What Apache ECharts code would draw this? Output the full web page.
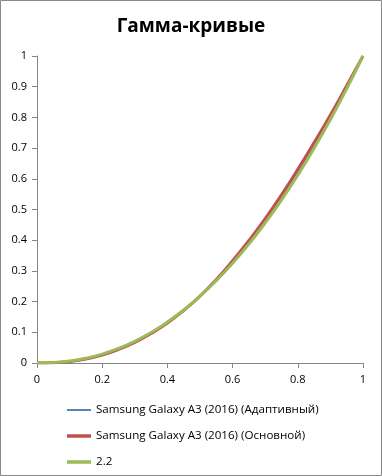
<!DOCTYPE html>
<html><head><meta charset="utf-8">
<script src="https://cdn.jsdelivr.net/npm/echarts@6/dist/echarts.min.js"></script>
<style>html,body{margin:0;padding:0;background:#fff}#c{width:382px;height:476px}</style>
</head><body><div id="c"></div>
<script>
const xs = [0,0.05,0.1,0.15,0.2,0.25,0.3,0.35,0.4,0.45,0.5,0.55,0.6,0.65,0.7,0.75,0.8,0.85,0.9,0.95,1];
const adaptive = [0,0.0012,0.0056,0.014,0.027,0.045,0.068,0.097,0.131,0.172,0.218,0.271,0.330,0.394,0.464,0.541,0.623,0.710,0.802,0.899,1];
const basic = [0,0.001,0.005,0.013,0.026,0.044,0.067,0.096,0.130,0.171,0.218,0.272,0.333,0.399,0.470,0.548,0.631,0.718,0.808,0.903,1];
const g22 = [0,0.0014,0.0063,0.0154,0.029,0.0474,0.0707,0.0993,0.1332,0.1726,0.2176,0.2684,0.325,0.3876,0.4563,0.5311,0.6121,0.6994,0.7931,0.8933,1];
const names = ['Samsung Galaxy A3 (2016) (Адаптивный)','Samsung Galaxy A3 (2016) (Основной)','2.2'];
const title = 'Гамма-кривые';
const pair = (ys) => xs.map((x,i)=>[x, ys[i]]);
const chart = echarts.init(document.getElementById('c'));
const fontFam = 'Open Sans, sans-serif';
const thin = 'path://M0,0L24,0L24,1.5L0,1.5Z';
const thick = 'path://M0,0L24,0L24,3.5L0,3.5Z';
chart.setOption({
  animation:false,
  title:{text:title,left:'center',top:12,textStyle:{fontFamily:fontFam,fontSize:19,fontWeight:'bold',color:'#000'}},
  grid:{left:37,right:19,top:56,bottom:113},
  xAxis:{type:'value',min:0,max:1,interval:0.2,
    axisLine:{show:true,lineStyle:{color:'#868686'}},axisTick:{show:true,length:5,lineStyle:{color:'#868686'}},
    splitLine:{show:false},axisLabel:{color:'#000',fontSize:11,fontFamily:fontFam,margin:11}},
  yAxis:{type:'value',min:0,max:1,interval:0.1,
    axisLine:{show:true,lineStyle:{color:'#868686'}},axisTick:{show:true,length:5,lineStyle:{color:'#868686'}},
    splitLine:{show:false},axisLabel:{color:'#000',fontSize:11,fontFamily:fontFam,margin:10}},
  legend:{orient:'vertical',left:62,top:399,itemWidth:24,itemHeight:10,itemGap:14,symbolKeepAspect:true,
    textStyle:{fontFamily:fontFam,fontSize:11.6,color:'#000'},
    data:[{name:names[0],icon:thin},{name:names[1],icon:thick},{name:names[2],icon:thick}]},
  graphic:[{type:'rect',shape:{x:0.5,y:0.5,width:381,height:475},style:{fill:'none',stroke:'#898989',lineWidth:1},silent:true}],
  series:[
    {name:names[0],type:'line',data:pair(adaptive),symbol:'none',smooth:true,lineStyle:{width:1,color:'#1f5c9e'},itemStyle:{color:'#1f5c9e'}},
    {name:names[1],type:'line',data:pair(basic),symbol:'none',smooth:true,lineStyle:{width:3,color:'#c0504d'},itemStyle:{color:'#c0504d'}},
    {name:names[2],type:'line',data:pair(g22),symbol:'none',smooth:true,lineStyle:{width:3,color:'#9bbb59'},itemStyle:{color:'#9bbb59'}}
  ]
});
</script></body></html>
